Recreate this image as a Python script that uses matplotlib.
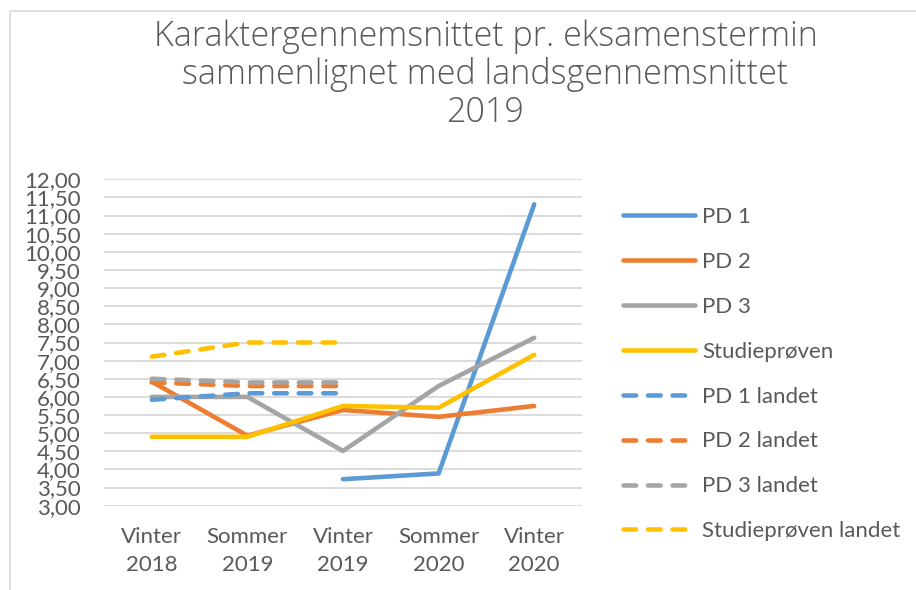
import numpy as np
import matplotlib.pyplot as plt
from matplotlib.patches import Rectangle
from matplotlib.ticker import FuncFormatter

plt.rcParams['font.family'] = ['Lato', 'DejaVu Sans']

# Eksamenstermin
terminer = ["Vinter\n2018", "Sommer\n2019", "Vinter\n2019", "Sommer\n2020", "Vinter\n2020"]

# Karaktergennemsnit (nan = ingen data)
pd1 = [np.nan, np.nan, 3.73, 3.89, 11.31]
pd2 = [6.42, 4.93, 5.64, 5.45, 5.75]
pd3 = [6.00, 6.00, 4.51, 6.30, 7.63]
studieproven = [4.90, 4.90, 5.75, 5.70, 7.16]

# Landsgennemsnit
pd1_landet = [5.92, 6.10, 6.10, np.nan, np.nan]
pd2_landet = [6.40, 6.30, 6.30, np.nan, np.nan]
pd3_landet = [6.50, 6.40, 6.40, np.nan, np.nan]
studieproven_landet = [7.11, 7.50, 7.50, np.nan, np.nan]

BLUE = '#5B9BD5'
ORANGE = '#ED7D31'
GREY = '#A5A5A5'
YELLOW = '#FFC000'
TEXT = '#595959'
GRID = '#D9D9D9'

fig = plt.figure(figsize=(9.16, 5.90), dpi=100)
ax = fig.add_axes([104 / 916, 1 - 505.7 / 590, 478 / 916, 326.4 / 590])

# ramme om diagrammet
fig.patches.append(Rectangle((10 / 916, -0.1), 1.2, 1 - 11 / 590 + 0.1,
                             transform=fig.transFigure, fill=False,
                             edgecolor=GRID, linewidth=1.2))

x = np.arange(len(terminer))
lw = 3.3
serier = [
    (pd1, BLUE, '-', "PD 1"),
    (pd2, ORANGE, '-', "PD 2"),
    (pd3, GREY, '-', "PD 3"),
    (studieproven, YELLOW, '-', "Studieprøven"),
    (pd1_landet, BLUE, '--', "PD 1 landet"),
    (pd2_landet, ORANGE, '--', "PD 2 landet"),
    (pd3_landet, GREY, '--', "PD 3 landet"),
    (studieproven_landet, YELLOW, '--', "Studieprøven landet"),
]
for vals, col, ls, lab in serier:
    line, = ax.plot(x, vals, color=col, lw=lw, label=lab,
                    solid_capstyle='round', dash_capstyle='round',
                    solid_joinstyle='round')
    if ls == '--':
        line.set_dashes((2.75, 2.6))

ax.set_xlim(-0.5, len(terminer) - 0.5)
ax.set_ylim(3, 12)
ax.set_yticks(np.arange(3, 12.01, 0.5))
ax.yaxis.set_major_formatter(FuncFormatter(lambda v, p: f"{v:.2f}".replace('.', ',')))
ax.set_xticks(x)
ax.set_xticklabels(terminer, linespacing=1.55)
ax.grid(axis='y', color=GRID, lw=1.3)
ax.set_axisbelow(True)
for s in ax.spines.values():
    s.set_visible(False)
ax.tick_params(axis='both', length=0, colors=TEXT, labelsize=16)
ax.tick_params(axis='y', pad=17)
ax.tick_params(axis='x', pad=15)

fig.text(485.5 / 916, 1 - 122 / 590,
         "Karaktergennemsnittet pr. eksamenstermin\nsammenlignet med landsgennemsnittet\n2019",
         ha='center', va='baseline', fontsize=24.5, color=TEXT,
         family=['Open Sans', 'DejaVu Sans'], fontweight='light',
         linespacing=1.12)

fig.legend(loc='upper left', bbox_to_anchor=(623 / 916, 1 - 207 / 590),
           frameon=False, fontsize=16, labelcolor=TEXT, handlelength=3.25,
           handletextpad=0.3, labelspacing=1.12, borderpad=0, borderaxespad=0)

fig.savefig('out.png', dpi=100)
